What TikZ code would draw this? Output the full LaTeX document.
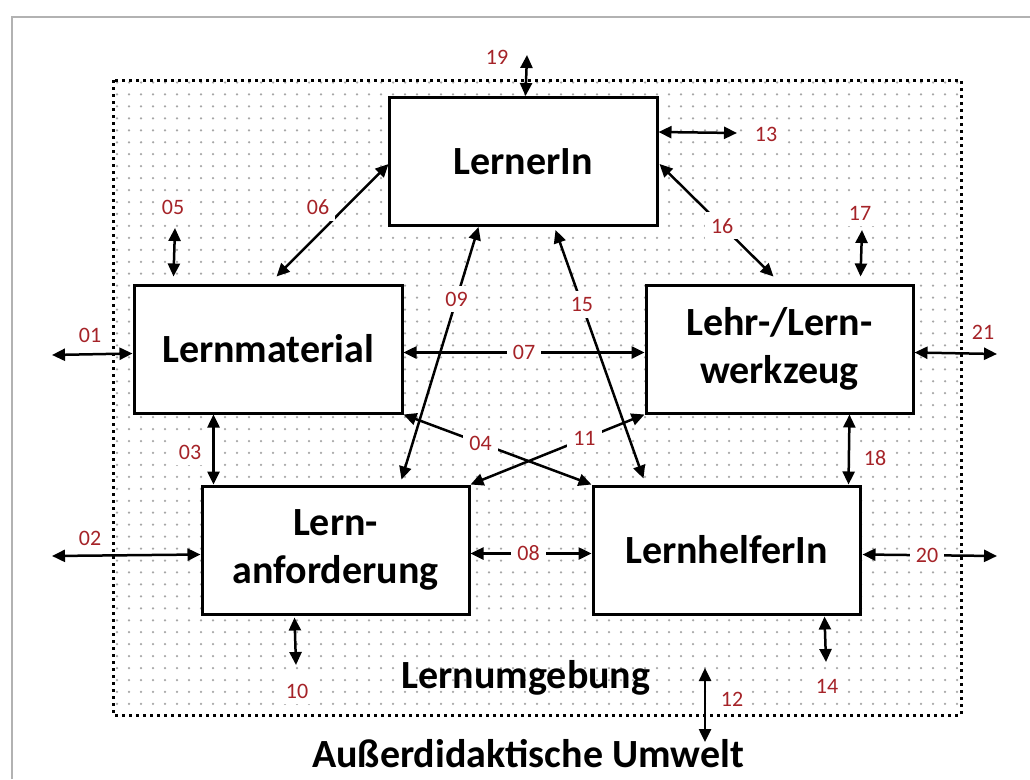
\documentclass[tikz,border=0pt]{standalone}
\usepackage{fontspec}
\setmainfont{Carlito}
\usetikzlibrary{arrows.meta,calc}
\definecolor{labred}{RGB}{165,35,40}
\begin{document}
\begin{tikzpicture}[x=1pt,y=-1pt,
  box/.style={draw,line width=3pt,fill=white,minimum width=268pt,minimum height=128pt,inner sep=0pt,align=center,font=\fontsize{40}{48}\selectfont\bfseries},
  arr/.style={line width=2.5pt,{Triangle[length=13pt,width=12pt]}-{Triangle[length=13pt,width=12pt]}},
  lab/.style={fill=white,text=labred,inner sep=6pt,font=\fontsize{22}{24}\selectfont},
  big/.style={font=\fontsize{40}{46}\selectfont\bfseries,inner sep=2pt},
  dotrow/.style={gray!70,line width=2.5pt,line cap=round,dash pattern=on 0pt off 12pt}]
\useasboundingbox (0,0) rectangle (1030,779);
\fill[white] (0,0) rectangle (1030,779);
\draw[gray!60,line width=2pt] (12,779) -- (12,17) -- (1030,17);
% dotted background
\foreach \j in {0,...,52}{\draw[dotrow] (117,82.5+\j*11.95) -- (958,82.5+\j*11.95);}
\draw[line width=3pt,dash pattern=on 3pt off 4pt] (113,80) rectangle (961,715);
% boxes
\node[box] (ln) at (523,161.5) {LernerIn};
\node[box] (lm) at (268,349) {Lernmaterial};
\node[box,minimum width=267pt] (lw) at (779.5,349) {Lehr-/Lern-\\werkzeug};
\node[box,minimum width=267pt] (la) at (335.5,550) {Lern-\\anforderung};
\node[box,minimum width=267pt] (lh) at (726.5,550) {LernhelferIn};
% free ends
\coordinate (c01) at (52,355);
\coordinate (c02) at (52,556);
\coordinate (c05) at (175,228);
\coordinate (c10) at (296,665);
\coordinate (c12a) at (705,668);
\coordinate (c12b) at (705,742);
\coordinate (c13) at (737,133);
\coordinate (c14) at (826,662);
\coordinate (c17) at (862,230);
\coordinate (c19) at (527,55);
\coordinate (c20) at (997,556);
\coordinate (c21) at (997,354);
% connectors
\draw[arr] (c01) -- ($(lm.north west)+(0,70)$);
\draw[arr] (c02) -- ($(la.north west)+(0,70)$);
\draw[arr] ($(lm.south west)+(81,0)$) -- ($(la.north west)+(13,0)$);
\draw[arr] (lm.south east) -- node[lab,pos=0.41] (l04) {04} (lh.north west);
\draw[arr] (c05) -- ($(lm.north west)+(41,-7)$);
\draw[arr] ($(lm.north west)+(144,-7)$) -- ($(ln.north west)+(1,68)$);
\draw[arr] ($(lm.north east)+(0,69)$) -- node[lab,pos=0.5] (l07) {07} ($(lw.north west)+(0,69)$);
\draw[arr] ($(la.north east)+(0,69)$) -- node[lab,pos=0.48] (l08) {08} ($(lh.north west)+(0,69)$);
\draw[arr] ($(la.north west)+(201,-5)$) -- node[lab,pos=0.715] (l09) {09} ($(ln.south west)+(91,0)$);
\draw[arr] ($(la.south west)+(94,2)$) -- (c10);
\draw[arr] (la.north east) -- node[lab,pos=0.655] (l11) {11} (lw.south west);
\draw[arr] (c12a) -- (c12b);
\draw[arr] ($(ln.north east)+(0,36)$) -- (c13);
\draw[arr] ($(lh.south west)+(233,1)$) -- (c14);
\draw[arr] ($(ln.south west)+(168,3)$) -- node[lab,pos=0.3] (l15) {15} ($(lh.north west)+(52,-6)$);
\draw[arr] ($(ln.north east)+(1,68)$) -- node[lab,pos=0.55] (l16) {16} ($(lw.north west)+(129,-7)$);
\draw[arr] (c17) -- ($(lw.north west)+(216,-7)$);
\draw[arr] ($(lw.south west)+(205,0)$) -- ($(lh.north west)+(257,0)$);
\draw[arr] (c19) -- ($(ln.north west)+(138,0)$);
\draw[arr] ($(lh.north east)+(1,70)$) -- node[lab,pos=0.48] (l20) {20} (c20);
\draw[arr] ($(lw.north east)+(0,69)$) -- (c21);
% free labels
\node[lab] (l01) at (90,335) {01};
\node[lab] (l02) at (90,538) {02};
\node[lab] (l03) at (190,452) {03};
\node[lab] (l05) at (173,207) {05};
\node[lab] (l06) at (318,207) {06};
\node[lab] (l10) at (297,691) {10};
\node[lab] (l12) at (732,699) {12};
\node[lab] (l13) at (766,134) {13};
\node[lab] (l14) at (827,686) {14};
\node[lab] (l17) at (860,213) {17};
\node[lab] (l18) at (875,458) {18};
\node[lab] (l19) at (497,57) {19};
\node[lab] (l21) at (983,332) {21};
% titles
\node[big] (lu) at (526,678) {Lernumgebung};
\node[big] (au) at (528,754) {Außerdidaktische Umwelt};
\end{tikzpicture}
\end{document}
